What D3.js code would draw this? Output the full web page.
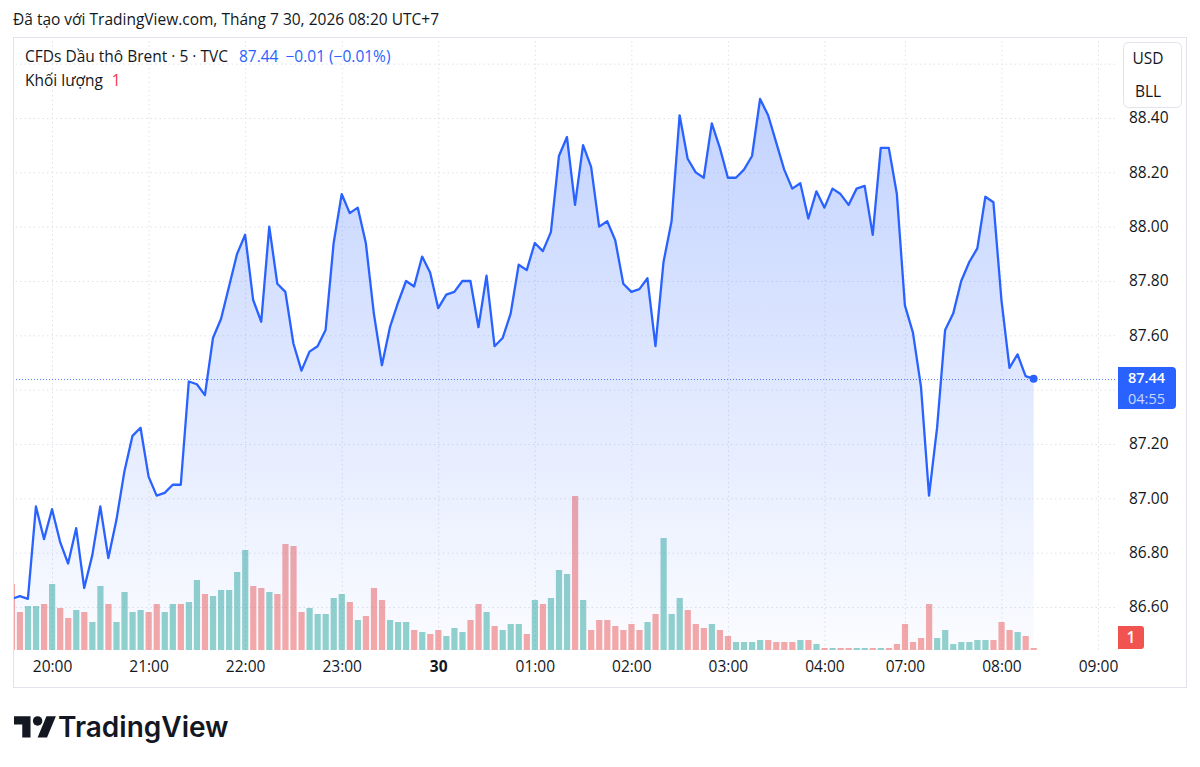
<!DOCTYPE html>
<html>
<head>
<meta charset="utf-8">
<script src="https://cdn.jsdelivr.net/npm/d3@7"></script>
<style>
  body { margin: 0; background: #ffffff; }
  svg { display: block; font-family: "Open Sans", "Noto Sans", sans-serif; }
</style>
</head>
<body>
<svg id="chart" width="1200" height="767"></svg>
<script>

// ************************************
// Data (5 min bars, Brent CFD, TVC)
// ************************************

// close price per bar, first bar 19:35, last bar 08:20
const closes = [
    86.63, 86.64, 86.63, 86.97, 86.85, 86.96, 86.84, 86.76, 86.89, 86.67,
    86.79, 86.97, 86.78, 86.92, 87.10, 87.23, 87.26, 87.08, 87.01, 87.02,
    87.05, 87.05, 87.43, 87.42, 87.38, 87.59, 87.66, 87.78, 87.90, 87.97,
    87.73, 87.65, 88.00, 87.79, 87.76, 87.57, 87.47, 87.54, 87.56, 87.62,
    87.94, 88.12, 88.05, 88.07, 87.94, 87.68, 87.49, 87.63, 87.72, 87.80,
    87.78, 87.89, 87.83, 87.70, 87.75, 87.76, 87.80, 87.80, 87.63, 87.82,
    87.56, 87.59, 87.68, 87.86, 87.84, 87.94, 87.91, 87.98, 88.26, 88.33,
    88.08, 88.30, 88.22, 88.00, 88.02, 87.95, 87.79, 87.76, 87.77, 87.81,
    87.56, 87.87, 88.02, 88.41, 88.25, 88.20, 88.18, 88.38, 88.29, 88.18,
    88.18, 88.21, 88.26, 88.47, 88.41, 88.31, 88.21, 88.14, 88.16, 88.03,
    88.13, 88.07, 88.14, 88.12, 88.08, 88.14, 88.15, 87.97, 88.29, 88.29,
    88.12, 87.71, 87.61, 87.41, 87.01, 87.26, 87.62, 87.68, 87.80, 87.87,
    87.92, 88.11, 88.09, 87.73, 87.48, 87.53, 87.45, 87.44
];

// volume per bar
const volumes = [
    33, 19, 22, 22, 23, 33, 21, 16, 20, 19, 14, 32, 23, 14, 29, 19, 20, 19, 23, 19,
    23, 23, 24, 35, 28, 27, 30, 30, 39, 50, 32, 31, 29, 28, 53, 52, 19, 21, 18, 18,
    26, 28, 24, 15, 17, 31, 25, 15, 14, 14, 10, 9, 8, 10, 7, 11, 9, 15, 23, 19,
    12, 10, 13, 13, 8, 25, 23, 26, 40, 38, 77, 25, 10, 15, 15, 12, 10, 13, 10, 14,
    18, 56, 18, 26, 20, 13, 11, 13, 10, 7, 4, 4, 4, 5, 5, 4, 4, 4, 5, 5,
    3, 1, 1, 1, 1, 1, 1, 1, 1, 1, 3, 13, 4, 6, 23, 6, 10, 3, 4, 4,
    5, 5, 5, 14, 10, 9, 7, 1
];

// g = up bar, r = down bar
const volumeDirection = (
    "rrggrgrrgr" + "ggrggggrrg" + "grggrggggg" + "rrgr" +
    "rrrgggggrg" + "rrrgggrgrr" + "gggrrgrggg" + "rgr" +
    "gggrgrrrrr" + "rrgrgggrrr" + "grrggggrrr" + "rgr" +
    "grgrrggrgr" + "rrrrrggggg" + "ggrrrgrr"
).split("");

// time axis: bar index -> label
const timeTickIndex = [5, 17, 29, 41, 53, 65, 77, 89, 101, 111, 123, 135];
const timeTickLabels = ["20:00", "21:00", "22:00", "23:00", "30", "01:00",
                        "02:00", "03:00", "04:00", "07:00", "08:00", "09:00"];

// price axis
const priceGrid = [88.60, 88.40, 88.20, 88.00, 87.80, 87.60, 87.40, 87.20, 87.00, 86.80, 86.60];
const priceLabels = [88.40, 88.20, 88.00, 87.80, 87.60, 87.20, 87.00, 86.80, 86.60];

const lastPrice = 87.44;

// ************************************
// Layout
// ************************************

const svg = d3.select("#chart");

const panel = { left: 13, top: 37, right: 1186, bottom: 687 };
const plot = { left: 13, top: 37, right: 1115, bottom: 650 };

const blue = "#2962ff";
const textColor = "#131722";
const upColor = "rgba(38,166,154,0.5)";
const downColor = "rgba(239,83,80,0.5)";
const fontSize = 15.5;

const x = d3.scaleLinear().domain([0, 135]).range([11.8, 1098]);
const y = d3.scaleLinear().domain([86.6, 88.4]).range([607, 118]);
const yVol = d3.scaleLinear().domain([0, 77]).range([plot.bottom, 496]);

// header line
svg.append("text")
    .attr("x", 13).attr("y", 25)
    .attr("font-size", fontSize)
    .attr("fill", textColor)
    .text("Đã tạo với TradingView.com, Tháng 7 30, 2026 08:20 UTC+7");

// panel border
svg.append("rect")
    .attr("x", panel.left + 0.5).attr("y", panel.top + 0.5)
    .attr("width", panel.right - panel.left).attr("height", panel.bottom - panel.top)
    .attr("fill", "none")
    .attr("stroke", "#e0e3eb");

// clip for the plot pane
svg.append("defs").append("clipPath").attr("id", "plotClip")
    .append("rect")
    .attr("x", plot.left + 1).attr("y", plot.top + 1)
    .attr("width", plot.right - plot.left - 1).attr("height", plot.bottom - plot.top);

const grad = svg.select("defs").append("linearGradient")
    .attr("id", "areaFill")
    .attr("gradientUnits", "userSpaceOnUse")
    .attr("x1", 0).attr("x2", 0)
    .attr("y1", y(d3.max(closes))).attr("y2", plot.bottom);
grad.append("stop").attr("offset", 0).attr("stop-color", blue).attr("stop-opacity", 0.28);
grad.append("stop").attr("offset", 1).attr("stop-color", blue).attr("stop-opacity", 0.02);

const g = svg.append("g").attr("clip-path", "url(#plotClip)");

// Gridlines
g.append("g")
    .attr("class", "grid")
    .attr("transform", `translate(0,${plot.bottom})`)
    .call(d3.axisBottom(x)
        .tickValues(timeTickIndex)
        .tickSize(-(plot.bottom - plot.top))
        .tickFormat(""));

g.append("g")
    .attr("class", "grid")
    .attr("transform", `translate(${plot.right},0)`)
    .call(d3.axisLeft(y)
        .tickValues(priceGrid)
        .tickSize(plot.right - plot.left)
        .tickFormat(""));

g.selectAll(".grid .domain").remove();
g.selectAll(".grid line")
    .attr("stroke", "#dfe2ea")
    .attr("stroke-dasharray", "1.5,3");

// volume bars
g.selectAll(".vol")
    .data(volumes)
    .enter()
    .append("rect")
    .attr("class", "vol")
    .attr("x", (d, i) => x(i) - 3)
    .attr("y", d => yVol(d))
    .attr("width", 6.2)
    .attr("height", d => plot.bottom - yVol(d))
    .attr("fill", (d, i) => volumeDirection[i] === "g" ? upColor : downColor);

// area + line
const area = d3.area()
    .x((d, i) => x(i))
    .y0(plot.bottom)
    .y1(d => y(d));

const line = d3.line()
    .x((d, i) => x(i))
    .y(d => y(d));

g.append("path")
    .datum(closes)
    .attr("d", area)
    .attr("fill", "url(#areaFill)");

// last price dotted line
g.append("line")
    .attr("x1", plot.left).attr("x2", plot.right)
    .attr("y1", Math.round(y(lastPrice)) + 0.5).attr("y2", Math.round(y(lastPrice)) + 0.5)
    .attr("stroke", blue)
    .attr("stroke-opacity", 0.8)
    .attr("stroke-width", 1)
    .attr("stroke-dasharray", "1,2");

g.append("path")
    .datum(closes)
    .attr("d", line)
    .attr("fill", "none")
    .attr("stroke", blue)
    .attr("stroke-width", 2.3)
    .attr("stroke-linejoin", "round");

g.append("circle")
    .attr("cx", x(closes.length - 1))
    .attr("cy", y(lastPrice))
    .attr("r", 4)
    .attr("fill", blue);

// ************************************
// Axes
// ************************************

const priceAxis = svg.append("g")
    .attr("class", "y axis")
    .attr("transform", `translate(1129,0)`)
    .call(d3.axisRight(y)
        .tickValues(priceLabels)
        .tickSize(0)
        .tickPadding(0)
        .tickFormat(d3.format(".2f")));
priceAxis.select(".domain").remove();
priceAxis.selectAll("text")
    .attr("font-family", "'Open Sans', sans-serif")
    .attr("font-size", fontSize)
    .attr("fill", textColor);

const timeAxis = svg.append("g")
    .attr("class", "x axis")
    .attr("transform", `translate(0,${plot.bottom})`)
    .call(d3.axisBottom(x)
        .tickValues(timeTickIndex)
        .tickSize(0)
        .tickPadding(11)
        .tickFormat((d, i) => timeTickLabels[i]));
timeAxis.select(".domain").remove();
timeAxis.selectAll("text")
    .attr("font-family", "'Open Sans', sans-serif")
    .attr("font-size", fontSize)
    .attr("fill", textColor)
    .attr("font-weight", (d, i) => timeTickLabels[i] === "30" ? 700 : 400);

// currency / unit box
svg.append("rect")
    .attr("x", 1123.5).attr("y", 42.5)
    .attr("width", 58).attr("height", 65)
    .attr("rx", 5)
    .attr("fill", "#ffffff")
    .attr("stroke", "#e0e3eb");
svg.append("text").attr("x", 1148).attr("y", 64).attr("text-anchor", "middle")
    .attr("font-size", fontSize).attr("fill", textColor).text("USD");
svg.append("text").attr("x", 1148).attr("y", 97).attr("text-anchor", "middle")
    .attr("font-size", fontSize).attr("fill", textColor).text("BLL");

// last price label
svg.append("path")
    .attr("d", "M1118,367 H1172 Q1176,367 1176,371 V405 Q1176,409 1172,409 H1118 Z")
    .attr("fill", blue);
svg.append("text").attr("x", 1128).attr("y", 383)
    .attr("font-size", 14.5).attr("font-weight", 600).attr("fill", "#ffffff")
    .text(d3.format(".2f")(lastPrice));
svg.append("text").attr("x", 1128).attr("y", 404)
    .attr("font-size", 14.5).attr("fill", "rgba(255,255,255,0.75)").text("04:55");

// last volume label
svg.append("path")
    .attr("d", "M1118,626 H1141 Q1144,626 1144,629 V646 Q1144,649 1141,649 H1118 Z")
    .attr("fill", "#f05350");
svg.append("text").attr("x", 1131).attr("y", 643).attr("text-anchor", "middle")
    .attr("font-size", fontSize).attr("font-weight", 600).attr("fill", "#ffffff")
    .text(volumes[volumes.length - 1]);

// ************************************
// Legend
// ************************************

const legend1 = svg.append("text").attr("x", 25).attr("y", 62).attr("font-size", fontSize);
legend1.append("tspan").attr("fill", textColor).text("CFDs Dầu thô Brent · 5 · TVC");
legend1.append("tspan").attr("fill", blue).attr("dx", 11).text("87.44");
legend1.append("tspan").attr("fill", blue).attr("dx", 7).text("−0.01 (−0.01%)");

const legend2 = svg.append("text").attr("x", 25).attr("y", 86).attr("font-size", fontSize);
legend2.append("tspan").attr("fill", textColor).text("Khối lượng");
legend2.append("tspan").attr("fill", "#f23645").attr("dx", 9).text(volumes[volumes.length - 1]);

// ************************************
// TradingView logo
// ************************************

const logo = svg.append("g").attr("transform", "translate(14,711.5) scale(1.18)");
logo.append("path")
    .attr("d", "M14 22H7V11H0V4h14v18zM28 22h-8l7.5-18h8L28 22z")
    .attr("fill", textColor);
logo.append("circle").attr("cx", 20).attr("cy", 8).attr("r", 4).attr("fill", textColor);

svg.append("text")
    .attr("x", 58).attr("y", 737)
    .attr("font-family", "Inter, sans-serif")
    .attr("font-size", 28)
    .attr("font-weight", 600)
    .attr("fill", textColor)
    .text("TradingView");

</script>
</body>
</html>
